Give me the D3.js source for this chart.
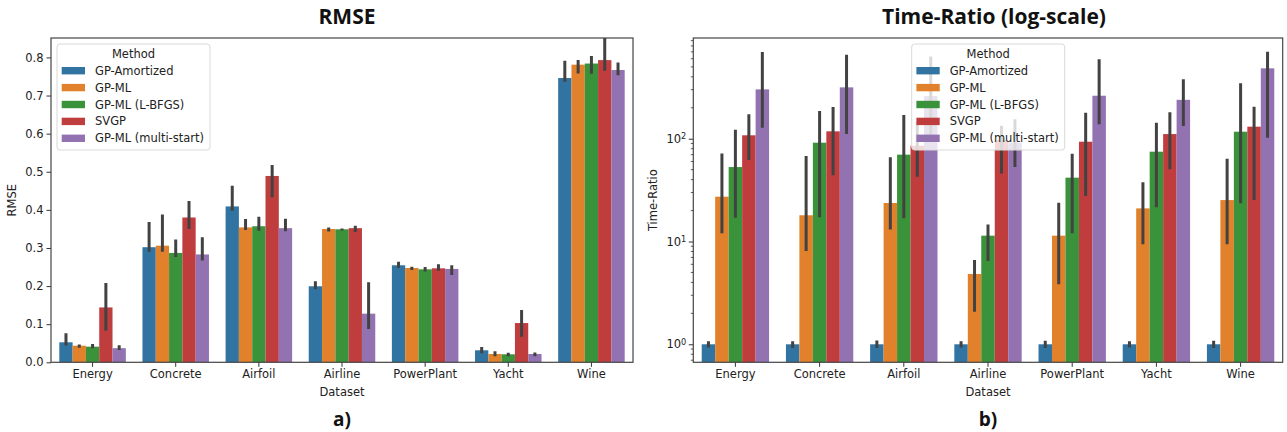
<!DOCTYPE html>
<html><head><meta charset="utf-8">
<script src="https://cdn.jsdelivr.net/npm/d3@7"></script>
<style>body{margin:0;background:#fff;} text{font-family:"DejaVu Sans",sans-serif;}</style>
</head><body>
<svg id="chart" width="1287" height="432"></svg>
<script>
const datasets = ["Energy","Concrete","Airfoil","Airline","PowerPlant","Yacht","Wine"];
const methods = ["GP-Amortized","GP-ML","GP-ML (L-BFGS)","SVGP","GP-ML (multi-start)"];
const colors = ["#3274a1","#e1812c","#3a923a","#c03d3e","#9372b2"];

// RMSE means and CI (lo, hi) per method
const rmseAmortized = [0.0525,0.302,0.409,0.1995,0.2546,0.0315,0.746];
const rmseAmortizedLo = [0.044,0.290,0.398,0.192,0.2475,0.024,0.736];
const rmseAmortizedHi = [0.076,0.368,0.463,0.213,0.264,0.040,0.791];
const rmseML = [0.0436,0.306,0.354,0.350,0.2475,0.0218,0.781];
const rmseMLLo = [0.038,0.290,0.347,0.343,0.242,0.016,0.758];
const rmseMLHi = [0.047,0.388,0.376,0.354,0.251,0.029,0.793];
const rmseLBFGS = [0.041,0.287,0.357,0.349,0.244,0.021,0.784];
const rmseLBFGSLo = [0.037,0.276,0.345,0.346,0.238,0.016,0.757];
const rmseLBFGSHi = [0.048,0.322,0.382,0.351,0.250,0.025,0.804];
const rmseSVGP = [0.144,0.380,0.489,0.352,0.2467,0.103,0.793];
const rmseSVGPLo = [0.083,0.350,0.433,0.342,0.240,0.067,0.765];
const rmseSVGPHi = [0.208,0.423,0.518,0.358,0.257,0.137,0.88];
const rmseMulti = [0.037,0.283,0.352,0.1276,0.245,0.0218,0.767];
const rmseMultiLo = [0.032,0.267,0.344,0.0874,0.229,0.016,0.753];
const rmseMultiHi = [0.045,0.328,0.377,0.210,0.2546,0.026,0.787];

// Time-ratio means and CI
const trAmortized = [1,1,1,1,1,1,1];
const trAmortizedLo = [0.93,0.92,0.92,0.93,0.92,0.93,0.92];
const trAmortizedHi = [1.07,1.07,1.09,1.07,1.08,1.07,1.08];
const trML = [27.3,18,23.7,4.83,11.4,21,25.3];
const trMLLo = [12.0,8.1,13.1,2.07,3.83,9.4,9.4];
const trMLHi = [72,68,66,6.6,23.8,37.7,64];
const trLBFGS = [53,91.5,70,11.4,41.8,74.8,117];
const trLBFGSLo = [17,17.2,16.8,6.46,12,21.5,23.5];
const trLBFGSHi = [122,186,170,14.6,71.5,143,346];
const trSVGP = [108,118,85.5,97,93.5,111,131];
const trSVGPLo = [62,44,42.7,46,27.7,50.4,25.3];
const trSVGPHi = [173,203,146,134,179,181,205];
const trMulti = [302,316,260,92,262,239,484];
const trMultiLo = [128,111,97,53,138,133,102];
const trMultiHi = [697,656,630,155,592,378,702];

const rmseTicks = [0.0,0.1,0.2,0.3,0.4,0.5,0.6,0.7,0.8];
const trTicks = [1,10,100];

function rows(means, los, his){
  const out=[];
  datasets.forEach((d,i)=>methods.forEach((m,j)=>{
    out.push({d, m, j, v: means[j][i], lo: los[j][i], hi: his[j][i]});
  }));
  return out;
}
const rmseRows = rows([rmseAmortized,rmseML,rmseLBFGS,rmseSVGP,rmseMulti],
  [rmseAmortizedLo,rmseMLLo,rmseLBFGSLo,rmseSVGPLo,rmseMultiLo],
  [rmseAmortizedHi,rmseMLHi,rmseLBFGSHi,rmseSVGPHi,rmseMultiHi]);
const trRows = rows([trAmortized,trML,trLBFGS,trSVGP,trMulti],
  [trAmortizedLo,trMLLo,trLBFGSLo,trSVGPLo,trMultiLo],
  [trAmortizedHi,trMLHi,trLBFGSHi,trSVGPHi,trMultiHi]);

const svg = d3.select("#chart");
const FS = 11.5;

function panel(opt){
  const {x0,x1,y0,y1,data,yScale,title,titleX,label,labelX,tag,legendX,isLog} = opt;
  const g = svg.append("g");
  const x = d3.scaleBand().domain(datasets).range([x0,x1]).paddingInner(0.2).paddingOuter(0.1);
  const xm = d3.scaleBand().domain(methods).range([0,x.bandwidth()]).padding(0);
  const clipId = "clip"+tag;
  svg.append("clipPath").attr("id",clipId).append("rect").attr("x",x0).attr("y",y0).attr("width",x1-x0).attr("height",y1-y0);
  const plot = g.append("g").attr("clip-path",`url(#${clipId})`);
  plot.selectAll("rect.bar").data(data).join("rect").attr("class","bar")
    .attr("x",r=>x(r.d)+xm(r.m)).attr("width",xm.bandwidth())
    .attr("y",r=>yScale(r.v)).attr("height",r=>y1-yScale(r.v))
    .attr("fill",r=>colors[r.j]);
  plot.selectAll("line.err").data(data).join("line").attr("class","err")
    .attr("x1",r=>x(r.d)+xm(r.m)+xm.bandwidth()/2).attr("x2",r=>x(r.d)+xm(r.m)+xm.bandwidth()/2)
    .attr("y1",r=>yScale(r.lo)).attr("y2",r=>yScale(r.hi))
    .attr("stroke","#424242").attr("stroke-width",3);

  // x axis
  const xa = g.append("g").attr("transform",`translate(0,${y1})`)
    .call(d3.axisBottom(x).tickSize(4.5).tickPadding(3));
  xa.select(".domain").remove();
  xa.selectAll("line").attr("stroke","#333").attr("stroke-width",1);
  xa.selectAll("text").attr("font-size",FS).attr("fill","#222").attr("font-family","DejaVu Sans");
  // y axis
  let ya;
  if(!isLog){
    ya = g.append("g").attr("transform",`translate(${x0},0)`)
      .call(d3.axisLeft(yScale).tickValues(rmseTicks).tickFormat(d3.format(".1f")).tickSize(4.5).tickPadding(3));
  } else {
    ya = g.append("g").attr("transform",`translate(${x0},0)`)
      .call(d3.axisLeft(yScale).tickValues(trTicks).tickFormat("").tickSize(4.5).tickPadding(3));
    const minor=[];
    [0.1,1,10,100].forEach(b=>{for(let k=2;k<=9;k++){const v=b*k; const [a,c]=yScale.domain(); if(v>=a&&v<=c) minor.push(v);}});
    g.append("g").selectAll("line").data(minor).join("line")
      .attr("x1",x0-2.5).attr("x2",x0).attr("y1",d=>yScale(d)).attr("y2",d=>yScale(d))
      .attr("stroke","#333").attr("stroke-width",0.8);
    ya.selectAll(".tick").each(function(d){
      const t = d3.select(this).append("text").attr("x",-7).attr("dy","0.32em").attr("text-anchor","end")
        .attr("font-size",FS).attr("fill","#222");
      t.append("tspan").text("10");
      t.append("tspan").attr("dy","-0.45em").attr("font-size",8.2).text(Math.round(Math.log10(d)));
    });
  }
  ya.select(".domain").remove();
  ya.selectAll("line").attr("stroke","#333").attr("stroke-width",1);
  ya.selectAll("text").attr("font-size",FS).attr("fill","#222");

  // frame
  g.append("rect").attr("x",x0).attr("y",y0).attr("width",x1-x0).attr("height",y1-y0)
    .attr("fill","none").attr("stroke","#444").attr("stroke-width",1.2);

  // labels
  g.append("text").attr("x",(x0+x1)/2).attr("y",396).attr("text-anchor","middle").attr("font-size",FS).attr("fill","#222").text("Dataset");
  g.append("text").attr("transform",`translate(${labelX},${(y0+y1)/2}) rotate(-90)`).attr("text-anchor","middle")
    .attr("font-size",FS).attr("fill","#222").text(label);
  g.append("text").attr("x",titleX).attr("y",24).attr("text-anchor","middle")
    .style("font-family","'Open Sans',sans-serif").attr("font-weight","bold").attr("font-size",21).attr("fill","#111").text(title);
  g.append("text").attr("x",(x0+x1)/2).attr("y",426).attr("text-anchor","middle")
    .style("font-family","'Open Sans',sans-serif").attr("font-weight","bold").attr("font-size",19).attr("fill","#111").text(tag+")");

  // legend
  const lg = g.append("g").attr("transform",`translate(${legendX},44)`);
  lg.append("rect").attr("width",153).attr("height",106).attr("rx",3)
    .attr("fill","white").attr("fill-opacity",0.8).attr("stroke","#d9d9d9").attr("stroke-width",1);
  lg.append("text").attr("x",76.5).attr("y",13.5).attr("text-anchor","middle").attr("font-size",FS).attr("fill","#222").text("Method");
  methods.forEach((m,j)=>{
    const yy = 26.7 + j*16.9;
    lg.append("rect").attr("x",4.7).attr("y",yy-3.7).attr("width",23.3).attr("height",7.4).attr("fill",colors[j]);
    lg.append("text").attr("x",38).attr("y",yy).attr("dy","0.35em").attr("font-size",FS).attr("fill","#222").text(m);
  });
}

const yR = d3.scaleLinear().domain([0,0.851]).range([362.3,38]);
panel({x0:51,x1:633,y0:38,y1:362.3,data:rmseRows,yScale:yR,title:"RMSE",titleX:347,label:"RMSE",labelX:16,tag:"a",legendX:57,isLog:false});
const yT = d3.scaleLog().domain([0.668,955]).range([362.3,38]);
panel({x0:693.3,x1:1282.7,y0:38,y1:362.3,data:trRows,yScale:yT,title:"Time-Ratio (log-scale)",titleX:994,label:"Time-Ratio",labelX:657,tag:"b",legendX:911.7,isLog:true});
</script>
</body></html>
